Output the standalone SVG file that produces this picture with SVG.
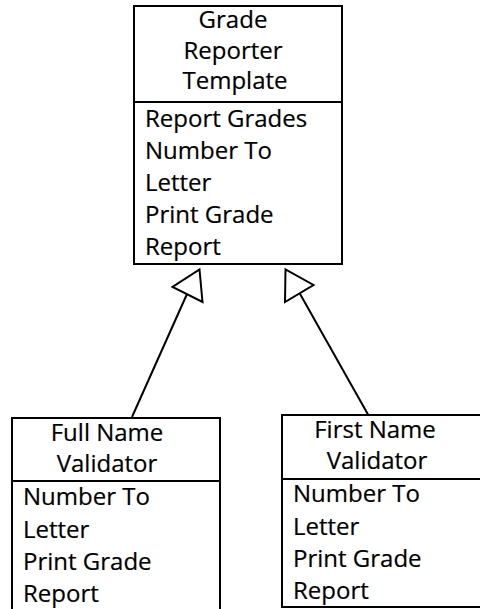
<svg xmlns="http://www.w3.org/2000/svg" width="480" height="609" viewBox="0 0 480 609">
  <style>
    .box { fill: #fff; stroke: #000; stroke-width: 2; }
    .sep { stroke: #000; stroke-width: 2; }
    .edge { stroke: #000; stroke-width: 2; fill: none; }
    .head { fill: #fff; stroke: #000; stroke-width: 2; stroke-linejoin: miter; }
    text { font-family: "Open Sans", "Noto Sans", "Liberation Sans", sans-serif; font-size: 24px; fill: #000; stroke: #000; stroke-width: 0.2; }
    .c { text-anchor: middle; }
  </style>

  <!-- base class -->
  <g id="grade-reporter-template">
    <rect class="box" x="134" y="6" width="208" height="258"/>
    <line class="sep" x1="134" y1="102" x2="342" y2="102"/>
    <text class="c" x="233" y="28">Grade</text>
    <text class="c" x="233" y="59">Reporter</text>
    <text class="c" x="235" y="89">Template</text>
    <text x="145" y="127">Report Grades</text>
    <text x="145" y="159">Number To</text>
    <text x="145" y="191">Letter</text>
    <text x="145" y="223">Print Grade</text>
    <text x="145" y="255">Report</text>
  </g>

  <!-- subclass, left -->
  <g id="full-name-validator">
    <rect class="box" x="12" y="418" width="208" height="200"/>
    <line class="sep" x1="12" y1="481" x2="220" y2="481"/>
    <text class="c" x="107" y="441">Full Name</text>
    <text class="c" x="107" y="472">Validator</text>
    <text x="23" y="505">Number To</text>
    <text x="23" y="538">Letter</text>
    <text x="23" y="570">Print Grade</text>
    <text x="23" y="602">Report</text>
  </g>

  <!-- subclass, right -->
  <g id="first-name-validator">
    <rect class="box" x="282" y="415" width="220" height="192"/>
    <line class="sep" x1="282" y1="479" x2="502" y2="479"/>
    <text class="c" x="375" y="438">First Name</text>
    <text class="c" x="377" y="469">Validator</text>
    <text x="293" y="502">Number To</text>
    <text x="293" y="535">Letter</text>
    <text x="293" y="567">Print Grade</text>
    <text x="293" y="599">Report</text>
  </g>

  <!-- generalization arrows -->
  <g id="connectors">
    <line class="edge" x1="132" y1="417" x2="187" y2="294"/>
    <polygon class="head" points="199.5,269.5 202.5,302 172.5,287"/>
    <line class="edge" x1="368" y1="414.5" x2="299.5" y2="293"/>
    <polygon class="head" points="285.5,269.5 285,302 313.5,285"/>
  </g>
</svg>
